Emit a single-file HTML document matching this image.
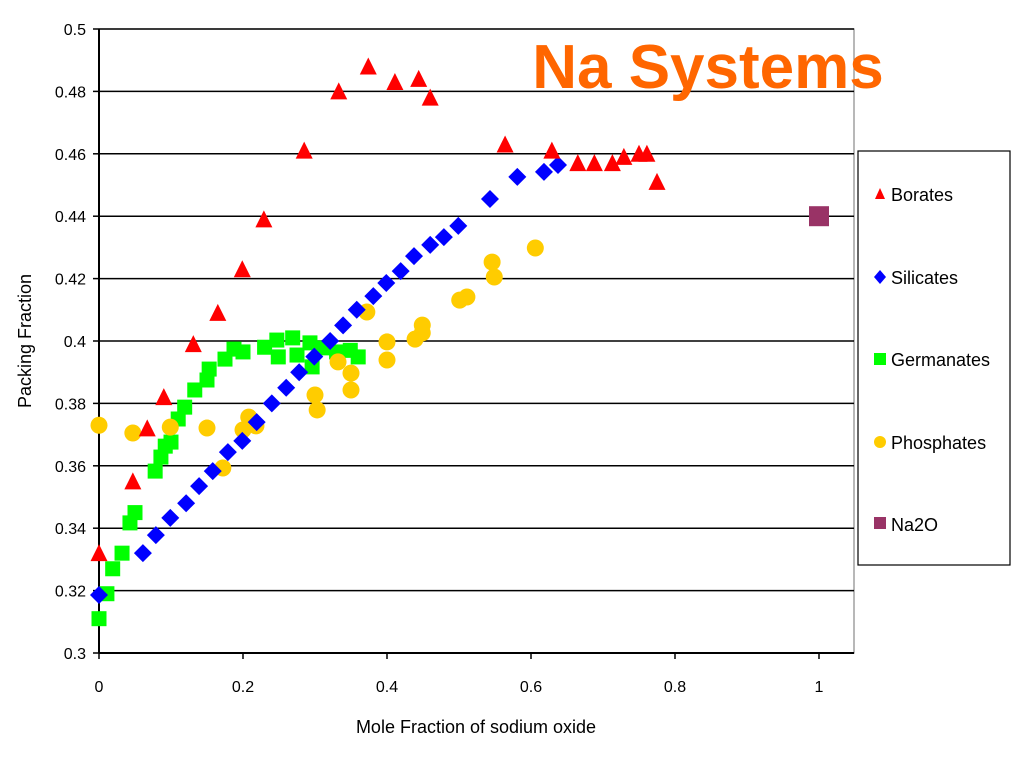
<!DOCTYPE html>
<html><head><meta charset="utf-8"><style>
body{margin:0;background:#fff;}
svg text{font-family:"Liberation Sans",sans-serif;}
</style></head><body>
<svg id="chart" width="1024" height="768" xmlns="http://www.w3.org/2000/svg">
<rect x="0" y="0" width="1024" height="768" fill="#fff"/>
<g id="grid"></g>
<g id="axes"></g>
<g id="marks"></g>
<text x="708" y="88" text-anchor="middle" font-size="62" font-weight="bold" fill="#ff6600">Na Systems</text>
<text x="476" y="733" text-anchor="middle" font-size="18">Mole Fraction of sodium oxide</text>
<text transform="translate(31,341) rotate(-90)" text-anchor="middle" font-size="18">Packing Fraction</text>
<g>
<rect x="858" y="151" width="152" height="414" fill="#fff" stroke="#000" stroke-width="1.2"/>
<polygon points="880,188 875,199 885,199" fill="#ff0000"/>
<text x="891" y="201" font-size="18">Borates</text>
<polygon points="880,270 886,277 880,284 874,277" fill="#0000ff"/>
<text x="891" y="284" font-size="18">Silicates</text>
<rect x="874" y="353" width="12" height="12" fill="#00ff00"/>
<text x="891" y="366" font-size="18">Germanates</text>
<circle cx="880" cy="442" r="6" fill="#ffcc00"/>
<text x="891" y="449" font-size="18">Phosphates</text>
<rect x="874" y="517" width="12" height="12" fill="#993366"/>
<text x="891" y="531" font-size="18">Na2O</text>
</g>
</svg>
<script>
const xTicks=[0,0.2,0.4,0.6,0.8,1];
const xTickLabels=["0","0.2","0.4","0.6","0.8","1"];
const yTicks=[0.3,0.32,0.34,0.36,0.38,0.4,0.42,0.44,0.46,0.48,0.5];
const yTickLabels=["0.3","0.32","0.34","0.36","0.38","0.4","0.42","0.44","0.46","0.48","0.5"];
const boratesX=[0,0.047,0.067,0.09,0.131,0.165,0.199,0.229,0.285,0.333,0.374,0.411,0.444,0.46,0.564,0.629,0.665,0.688,0.713,0.729,0.75,0.761,0.775];
const boratesY=[0.332,0.355,0.372,0.382,0.399,0.409,0.423,0.439,0.461,0.48,0.488,0.483,0.484,0.478,0.463,0.461,0.457,0.457,0.457,0.459,0.46,0.46,0.451];
const silicatesX=[0,0.061,0.079,0.099,0.121,0.139,0.158,0.179,0.199,0.219,0.24,0.26,0.278,0.299,0.321,0.339,0.358,0.381,0.399,0.419,0.4375,0.46,0.479,0.499,0.543,0.581,0.618,0.6375];
const silicatesY=[0.3186,0.332,0.3378,0.3433,0.348,0.3535,0.3583,0.3644,0.368,0.374,0.38,0.385,0.39,0.395,0.4,0.405,0.41,0.4144,0.4186,0.4224,0.4272,0.4308,0.4333,0.4369,0.4455,0.4526,0.4542,0.4564];
const germanatesX=[0,0.011,0.019,0.032,0.043,0.05,0.078,0.086,0.092,0.1,0.11,0.119,0.133,0.15,0.153,0.175,0.1875,0.2,0.23,0.247,0.249,0.269,0.275,0.293,0.296,0.311,0.33,0.349,0.36];
const germanatesY=[0.311,0.319,0.327,0.332,0.3417,0.345,0.3583,0.3628,0.3663,0.3676,0.375,0.3788,0.3843,0.3875,0.391,0.3942,0.3974,0.3965,0.398,0.4003,0.3949,0.401,0.3955,0.3994,0.3917,0.3978,0.3965,0.397,0.3949];
const phosphatesX=[0,0.047,0.099,0.15,0.172,0.2,0.208,0.218,0.3,0.303,0.332,0.35,0.35,0.372,0.4,0.4,0.439,0.449,0.449,0.501,0.511,0.546,0.549,0.606];
const phosphatesY=[0.373,0.3705,0.3724,0.3721,0.3593,0.3715,0.3756,0.3728,0.3827,0.3779,0.3933,0.3897,0.3843,0.4093,0.3997,0.3939,0.4006,0.4051,0.4026,0.4131,0.4141,0.4253,0.4205,0.4298];
const na2oX=[1];
const na2oY=[0.44];

const NS="http://www.w3.org/2000/svg";
const L=99,R=854,T=29,B=653;
function sx(v){return 99+v*720;}
function sy(v){return B-(v-0.3)/0.2*(B-T);}
function mk(tag,attrs,parent){const e=document.createElementNS(NS,tag);for(const k in attrs)e.setAttribute(k,attrs[k]);parent.appendChild(e);return e;}
const grid=document.getElementById('grid'),axes=document.getElementById('axes'),marks=document.getElementById('marks');
mk('rect',{x:L,y:T,width:R-L,height:B-T,fill:'none',stroke:'#888','stroke-width':1.2},grid);
yTicks.forEach((v,i)=>{
  if(i>0){const g=mk('line',{x1:L,x2:R,y1:sy(v),y2:sy(v),stroke:'#000','stroke-width':1.5},grid);
  
  }
  mk('line',{x1:L-6,x2:L,y1:sy(v),y2:sy(v),stroke:'#000','stroke-width':1.5},axes);
  const t=mk('text',{x:L-13,y:sy(v)+6,'text-anchor':'end','font-size':16},axes);
  t.textContent=yTickLabels[i];
  
  
});
xTicks.forEach((v,i)=>{
  mk('line',{x1:sx(v),x2:sx(v),y1:B,y2:B+6,stroke:'#000','stroke-width':1.5},axes);
  const t=mk('text',{x:sx(v),y:B+39,'text-anchor':'middle','font-size':16},axes);
  t.textContent=xTickLabels[i];
  
  
});
mk('line',{x1:L,x2:L,y1:T,y2:B,stroke:'#000','stroke-width':2},axes);
mk('line',{x1:L,x2:R,y1:B,y2:B,stroke:'#000','stroke-width':2},axes);

function drawSeries(xs,ys,shape,color,name){
  xs.forEach((xv,i)=>{
    const cx=sx(xv),cy=sy(ys[i]);let e;
    if(shape==='tri')e=mk('polygon',{points:`${cx},${cy-9} ${cx-8.5},${cy+8} ${cx+8.5},${cy+8}`,fill:color},marks);
    else if(shape==='dia')e=mk('polygon',{points:`${cx},${cy-9} ${cx+9},${cy} ${cx},${cy+9} ${cx-9},${cy}`,fill:color},marks);
    else if(shape==='sq')e=mk('rect',{x:cx-7.5,y:cy-7.5,width:15,height:15,fill:color},marks);
    else if(shape==='bigsq')e=mk('rect',{x:cx-10,y:cy-10,width:20,height:20,fill:color},marks);
    else e=mk('circle',{cx:cx,cy:cy,r:8.5,fill:color},marks);
    
    
  });
}
drawSeries(germanatesX,germanatesY,'sq','#00ff00','germanates-point');
drawSeries(phosphatesX,phosphatesY,'circ','#ffcc00','phosphates-point');
drawSeries(silicatesX,silicatesY,'dia','#0000ff','silicates-point');
drawSeries(boratesX,boratesY,'tri','#ff0000','borates-point');
drawSeries(na2oX,na2oY,'bigsq','#993366','na2o-point');
</script>
</body></html>
